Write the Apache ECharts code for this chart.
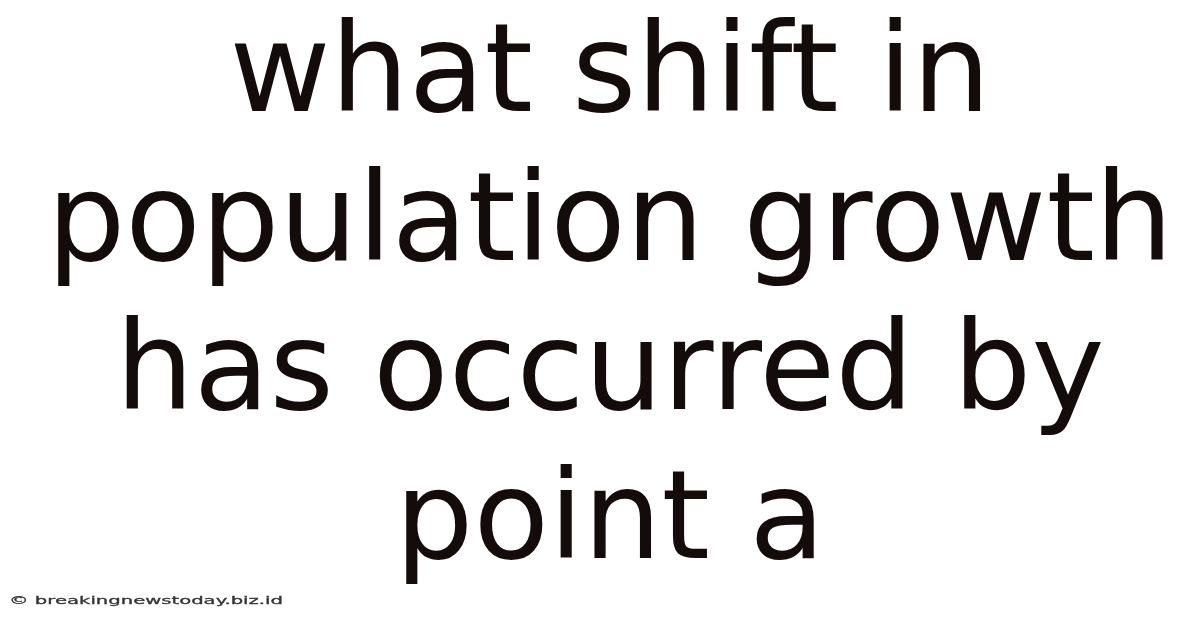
<!DOCTYPE html>
<html><head><meta charset="utf-8">
<script src="https://cdn.jsdelivr.net/npm/echarts@6/dist/echarts.min.js"></script>
<style>html,body{margin:0;padding:0;background:#fff}#c{width:1200px;height:628px}</style>
</head><body><div id="c"></div>
<script>
const titleLines = ["what shift in", "population growth", "has occurred by", "point a"];
const watermark = "© breakingnewstoday.biz.id";

const chart = echarts.init(document.getElementById('c'), null, {renderer: 'canvas'});
const fontSize = 123.5, lineH = 149, firstTop = 17, cx = 610;
const elements = titleLines.map((t, i) => ({
  type: 'text',
  x: cx, y: firstTop + i * lineH,
  style: {text: t, font: 'normal ' + fontSize + 'px "DejaVu Sans"', fill: '#140b0b', align: 'center', verticalAlign: 'top'}
}));
// watermark: wide, horizontally stretched small text
const cv = document.createElement('canvas').getContext('2d');
const wmFont = 'normal 11px "DejaVu Sans"';
cv.font = wmFont;
const natW = cv.measureText(watermark).width;
const targetW = 274;
elements.push({type: 'text', x: 9, y: 601, scaleX: targetW / natW,
  style: {text: watermark, font: wmFont, fill: '#333333', align: 'left', verticalAlign: 'middle', stroke: '#333333', lineWidth: 0.3}});
chart.setOption({backgroundColor: '#ffffff', graphic: {elements}});
</script></body></html>
